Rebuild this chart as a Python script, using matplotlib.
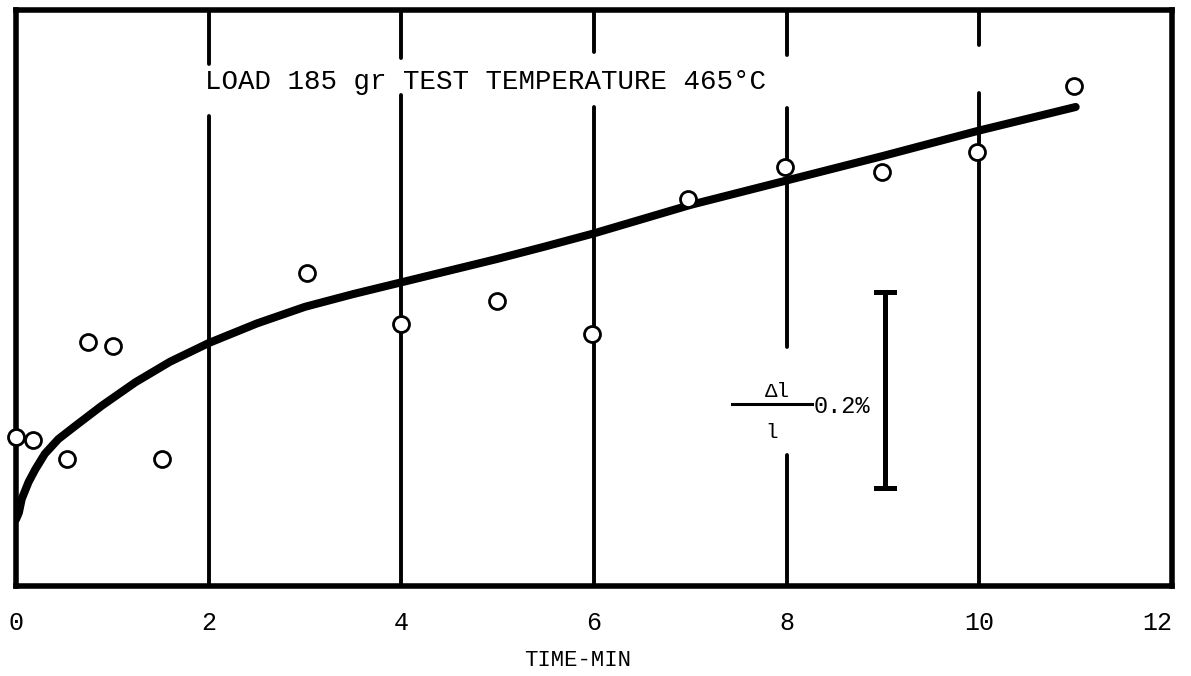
import matplotlib

matplotlib.use("Agg")

import matplotlib.pyplot as plt

FONT = ["Liberation Mono", "DejaVu Sans Mono"]
INK = "black"

# measured creep points: time in minutes, strain in %
time_pts = [0.0, 0.18, 0.53, 0.75, 1.01, 1.52, 3.02, 4.0, 4.99, 5.98, 6.98, 7.98, 8.99, 9.98, 10.98]
strain_pts = [0.152, 0.149, 0.130, 0.249, 0.245, 0.130, 0.320, 0.267, 0.291, 0.257, 0.395, 0.428, 0.423, 0.443, 0.510]

# hand-drawn fit curve
curve_t = [0.0, 0.03, 0.06, 0.13, 0.20, 0.30, 0.44, 0.61, 0.89, 1.24, 1.6, 2.0, 2.5, 3.0, 3.5,
           4.0, 5.0, 5.47, 6.0, 7.0, 8.0, 9.0, 10.0, 11.0]
curve_s = [0.068, 0.075, 0.089, 0.106, 0.119, 0.135, 0.150, 0.163, 0.184, 0.208, 0.229, 0.248, 0.268, 0.285, 0.298,
           0.310, 0.334, 0.346, 0.360, 0.389, 0.414, 0.439, 0.465, 0.489]

xticks = [0, 2, 4, 6, 8, 10, 12]
xtick_labels = ["0", "2", "4", "6", "8", "10", "12"]

# grid line segments (x, y_from, y_to), broken around the labels
grid_segments = [
    (2, 0.0, 0.480), (2, 0.533, 0.588),
    (4, 0.0, 0.501), (4, 0.539, 0.588),
    (6, 0.0, 0.489), (6, 0.545, 0.588),
    (8, 0.0, 0.134), (8, 0.244, 0.488), (8, 0.542, 0.588),
    (10, 0.0, 0.503), (10, 0.552, 0.588),
]

fig = plt.figure(figsize=(11.91, 6.76), dpi=100)
ax = fig.add_axes([16 / 1191, 1 - 586 / 676, 1156 / 1191, 576 / 676])
ax.set_xlim(0, 12)
ax.set_ylim(0, 0.588)

for s in ax.spines.values():
    s.set_linewidth(4.0)
    s.set_color(INK)

for x, y0, y1 in grid_segments:
    ax.plot([x, x], [y0, y1], color=INK, lw=2.8, solid_capstyle="round", zorder=2)

ax.plot(curve_t, curve_s, color=INK, lw=5.8, solid_capstyle="round", solid_joinstyle="round", zorder=3)
ax.plot(time_pts, strain_pts, "o", ms=11.5, mew=2.0, mfc="white", mec=INK, zorder=5, clip_on=False)

# 0.2 % scale bar
ax.plot([9.02, 9.02], [0.1, 0.3], color=INK, lw=3.6, zorder=3)
for yb in (0.1, 0.3):
    ax.plot([8.93, 9.11], [yb, yb], color=INK, lw=3.6, zorder=3)

ax.plot([7.43, 8.26], [0.186, 0.186], color=INK, lw=2.2, zorder=3)
ax.text(7.9, 0.199, "\u0394l", fontsize=15, family=FONT, ha="center", va="center")
ax.text(7.84, 0.157, "l", fontsize=15, family=FONT, ha="center", va="center")
ax.text(8.28, 0.183, "0.2%", fontsize=17, family=FONT, ha="left", va="center")

ax.text(1.96, 0.514, "LOAD 185 gr TEST TEMPERATURE 465\u00b0C", fontsize=19.8, family=FONT,
        ha="left", va="center", zorder=4)

ax.set_yticks([])
ax.set_xticks(xticks)
ax.set_xticklabels(xtick_labels, fontsize=18, family=FONT)
ax.get_xticklabels()[-1].set_ha("right")
ax.tick_params(axis="x", length=0, pad=18)

fig.text(578 / 1191, 1 - 661 / 676, "TIME-MIN", fontsize=16, family=FONT, ha="center", va="center")

fig.savefig("out.png", dpi=100, facecolor="white")
